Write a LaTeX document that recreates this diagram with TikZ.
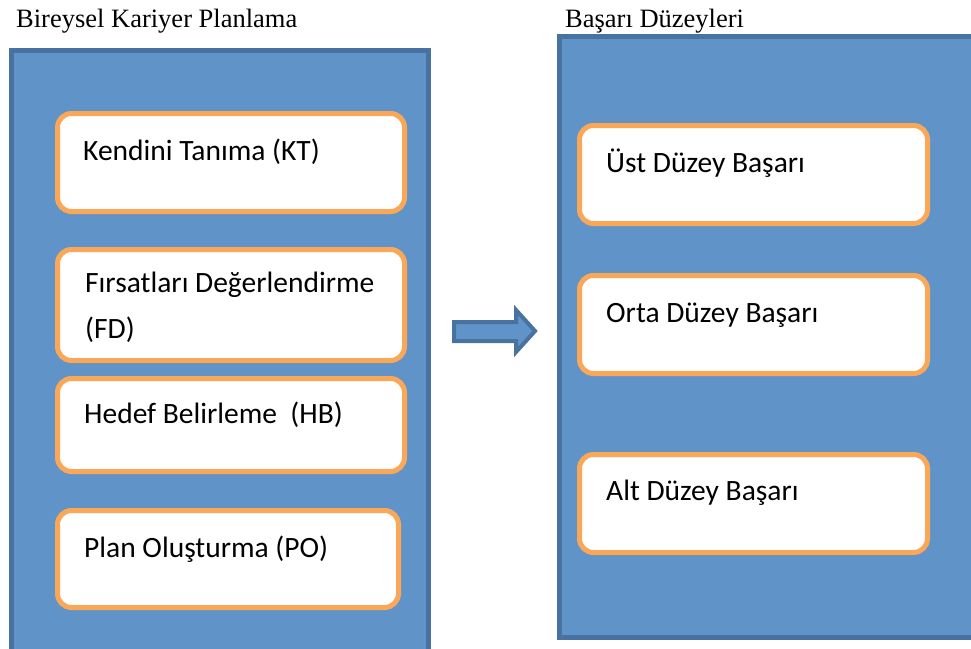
\documentclass[tikz,border=0pt]{standalone}
\usepackage{fontspec}
\setmainfont{Liberation Serif}
\newfontfamily\boxfont{Carlito}
\definecolor{panelfill}{RGB}{96,148,200}
\definecolor{paneldraw}{RGB}{72,114,160}
\definecolor{boxdraw}{RGB}{250,168,88}
\tikzset{
  panel/.style={fill=panelfill, draw=paneldraw, line width=5pt},
  itembox/.style={fill=white, draw=boxdraw, line width=5pt, rounded corners=14pt},
  itemtext/.style={anchor=base west, inner sep=0pt, font=\boxfont\fontsize{29.5}{46}\selectfont, align=left},
  titletext/.style={anchor=base west, inner sep=0pt, font=\fontsize{26.5}{30}\selectfont},
  blockarrow/.style={fill=panelfill, draw=paneldraw, line width=4pt, line join=miter},
}
\begin{document}
\begin{tikzpicture}[x=1pt,y=-1pt]
\useasboundingbox (0,0) rectangle (971,648);
\clip (0,0) rectangle (971,648);
% titles
\node[titletext] (t1) at (16,27.5) {Bireysel Kariyer Planlama};
\node[titletext] (t2) at (565,27) {Başarı Düzeyleri};
% panels
\draw[panel] (11.5,50.5) rectangle (428.5,670);
\draw[panel] (559.5,36.5) rectangle (990,637.5);
% left boxes
\draw[itembox] (57.5,113.5) rectangle (404.5,211.5);
\draw[itembox] (57.5,249.5) rectangle (404.5,360.5);
\draw[itembox] (57.5,378.5) rectangle (404.5,471.5);
\draw[itembox] (57.5,510.5) rectangle (398.5,607.5);
\node[itemtext] (kt) at (83,160) {Kendini Tanıma (KT)};
\node[itemtext] (fd) at (85,338) {Fırsatları Değerlendirme\\(FD)};
\node[itemtext] (hb) at (84,423) {Hedef Belirleme\ \ (HB)};
\node[itemtext] (po) at (84,557) {Plan Oluşturma (PO)};
% right boxes
\draw[itembox] (579.5,125.5) rectangle (927.5,223.5);
\draw[itembox] (579.5,275.5) rectangle (927.5,373.5);
\draw[itembox] (579.5,454.5) rectangle (927.5,552.5);
\node[itemtext] (ust) at (606,172) {Üst Düzey Başarı};
\node[itemtext] (orta) at (606,322) {Orta Düzey Başarı};
\node[itemtext] (alt) at (606,500) {Alt Düzey Başarı};
% arrow
\draw[blockarrow] (454,322) -- (516,322) -- (516,310) -- (535,331) -- (516,352) -- (516,341) -- (454,341) -- cycle;
\end{tikzpicture}
\end{document}
